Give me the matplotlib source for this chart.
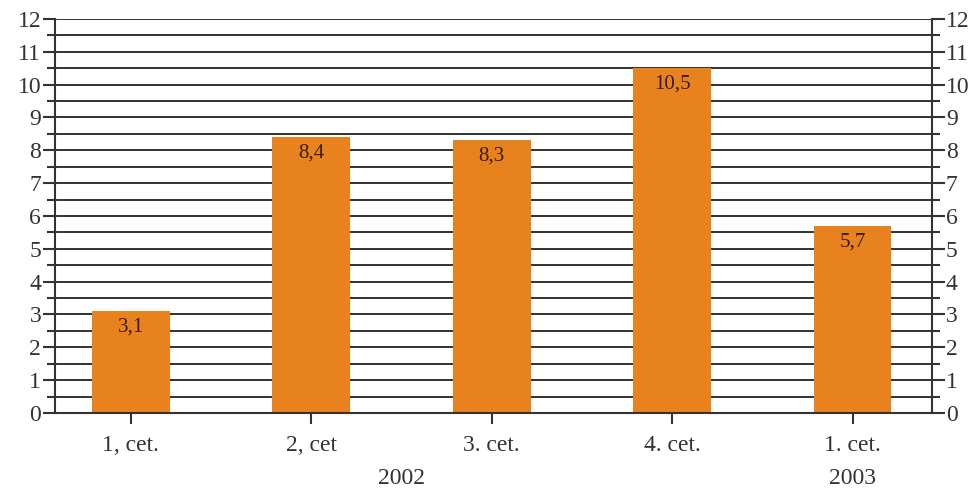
import numpy as np
import matplotlib
matplotlib.use("Agg")
from matplotlib import pyplot as plt
from matplotlib.ticker import MultipleLocator

quarters = ["1, cet.", "2, cet", "3. cet.", "4. cet.", "1. cet.\n2003"]
values = [3.1, 8.4, 8.3, 10.5, 5.7]
value_labels = ["3,1", "8,4", "8,3", "10,5", "5,7"]
year_label = "2002"

plt.rcParams['font.family'] = ['Liberation Serif', 'DejaVu Serif']

fig = plt.figure(figsize=(9.79, 4.91), dpi=100)
ax = fig.add_axes([0.0562, 0.1589, 0.8958, 0.8024])

x = np.arange(len(values))
bars = ax.bar(x, values, width=0.43, color='#e8821e', zorder=3)

for b, lab in zip(bars, value_labels):
    ax.text(b.get_x() + b.get_width() / 2, b.get_height() - 0.2, lab,
            ha='center', va='top', fontsize=15, color='#3a1a00', zorder=4)

ax.set_xlim(-0.42, 4.44)
ax.set_ylim(0, 12)

# grid at every half unit
ax.yaxis.set_major_locator(MultipleLocator(1))
ax.yaxis.set_minor_locator(MultipleLocator(0.5))
ax.grid(True, axis='y', which='both', color='#222222', linewidth=1.3, zorder=1)

ax.tick_params(axis='y', which='major', length=9, width=1.5, color='#333333',
               labelsize=17, labelright=True, right=True, pad=1)
ax.tick_params(axis='y', which='minor', length=6, width=1.5, color='#333333', right=True)
ax.tick_params(axis='x', which='major', length=8, width=1.5, color='#333333',
               labelsize=17, pad=8)

ax.set_xticks(x)
ax.set_xticklabels(quarters, linespacing=1.75)
for lab in ax.get_yticklabels() + ax.get_xticklabels():
    lab.set_color('#333333')

# year under the middle of 2002 quarters, aligned with the 2003 line
ax.annotate(year_label, xy=(1.5, 0), xycoords=ax.get_xaxis_transform(),
            xytext=(0, -51), textcoords='offset points',
            ha='center', va='baseline', fontsize=17, color='#333333')

for side in ['left', 'right', 'bottom']:
    ax.spines[side].set_linewidth(1.5)
    ax.spines[side].set_color('#333333')
    ax.spines[side].set_zorder(5)
ax.spines['top'].set_visible(False)

fig.savefig("out.png", dpi=100)
